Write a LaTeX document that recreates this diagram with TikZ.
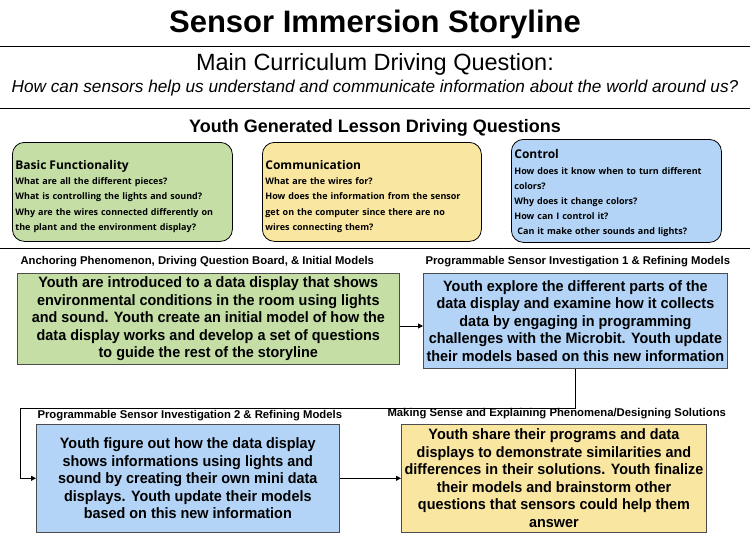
\documentclass[tikz,border=0pt]{standalone}
\usepackage{fontspec}
\setmainfont{Liberation Sans}
\newfontfamily\narrowfont[FakeStretch=0.96]{Liberation Sans}
\newfontfamily\qfont{Open Sans}
\usetikzlibrary{arrows.meta, positioning}

\definecolor{boxgreen}{HTML}{C4DEA6}
\definecolor{boxyellow}{HTML}{F9E6A1}
\definecolor{boxblue}{HTML}{B3D4F6}

\tikzset{
    qbox/.style={draw=black, rounded corners=12pt, line width=0.8pt, anchor=north west,
        align=left, inner xsep=3pt, inner ysep=8pt, font=\qfont\bfseries\fontsize{9}{15.2}\selectfont},
    stagebox/.style={draw=black!70, line width=0.6pt, anchor=north west, align=center,
        font=\narrowfont\bfseries\fontsize{15}{17.5}\selectfont},
    stagelabel/.style={anchor=west, font=\bfseries\fontsize{11.3}{13}\selectfont},
    flow/.style={line width=1pt, -{Triangle[length=5pt,width=5pt]}}
}

\begin{document}
\begin{tikzpicture}[x=1pt, y=-1pt]
    \useasboundingbox (0,0) rectangle (750,543);

    % Header
    \node[font=\bfseries\fontsize{31}{33}\selectfont] (title) at (375,24) {Sensor Immersion Storyline};
    \draw[line width=1pt] (0,47) -- (750,47);
    \node[font=\fontsize{23.5}{25}\selectfont] (mainq) at (375,64) {Main Curriculum Driving Question:};
    \node[font=\itshape\fontsize{17.2}{19}\selectfont] (mainqtext) at (375,88)
        {How can sensors help us understand and communicate information about the world around us?};
    \draw[line width=1pt] (0,108) -- (750,108);
    \node[font=\bfseries\fontsize{18}{20}\selectfont] (youthq) at (375,128) {Youth Generated Lesson Driving Questions};

    % Lesson driving questions
    \node[qbox, fill=boxgreen, text width=214pt, minimum height=99pt] (basic) at (12,142)
        {\rule{0pt}{18pt}{\fontsize{12}{14}\selectfont Basic Functionality}\\
         What are all the different pieces?\\
         What is controlling the lights and sound?\\
         Why are the wires connected differently on\\
         the plant and the environment display?};
    \node[qbox, fill=boxyellow, text width=213pt, minimum height=99pt] (comm) at (262,142)
        {\rule{0pt}{18pt}{\fontsize{12}{14}\selectfont Communication}\\
         What are the wires for?\\
         How does the information from the sensor\\
         get on the computer since there are no\\
         wires connecting them?};
    \node[qbox, fill=boxblue, text width=204pt, minimum height=103pt, inner ysep=5pt] (control) at (511,139)
        {\rule{0pt}{14pt}{\fontsize{12}{14}\selectfont Control}\\
         How does it know when to turn different\\
         colors?\\
         Why does it change colors?\\
         How can I control it?\\
         \ Can it make other sounds and lights?};
    \draw[line width=1pt] (0,248) -- (750,248);

    % Storyline stages
    \node[stagelabel] (lab1) at (17,262) {Anchoring Phenomenon, Driving Question Board, \& Initial Models};
    \node[stagelabel] (lab2) at (422,262) {Programmable Sensor Investigation 1 \& Refining Models};
    \node[stagebox, fill=boxgreen, minimum width=382pt, minimum height=79pt] (anchor) at (17,273)
        {Youth are introduced to a data display that shows\\
         environmental conditions in the room using lights\\
         and sound. Youth create an initial model of how the\\
         data display works and develop a set of questions\\
         to guide the rest of the storyline};
    \node[stagebox, fill=boxblue, minimum width=300pt, minimum height=95pt] (invest1) at (423,273)
        {Youth explore the different parts of the\\
         data display and examine how it collects\\
         data by engaging in programming\\
         challenges with the Microbit. Youth update\\
         their models based on this new information};

    \node[stagelabel] (lab3) at (34,416) {Programmable Sensor Investigation 2 \& Refining Models};
    \node[stagelabel] (lab4) at (384,414) {Making Sense and Explaining Phenomena/Designing Solutions};
    \node[stagebox, fill=boxblue, minimum width=303pt, minimum height=108pt] (invest2) at (36,424)
        {Youth figure out how the data display\\
         shows informations using lights and\\
         sound by creating their own mini data\\
         displays. Youth update their models\\
         based on this new information};
    \node[stagebox, fill=boxyellow, minimum width=305pt, minimum height=108pt] (sense) at (401,424)
        {Youth share their programs and data\\
         displays to demonstrate similarities and\\
         differences in their solutions. Youth finalize\\
         their models and brainstorm other\\
         questions that sensors could help them\\
         answer};

    % Connectors
    \coordinate (turnA) at (575,408);
    \coordinate (turnB) at (20,408);
    \draw[flow] (anchor.east |- 0,326) -- (invest1.west |- 0,326);
    \draw[flow] (invest1.south -| turnA) -- (turnA) -- (turnB) |- (invest2.west);
    \draw[flow] (invest2.east) -- (sense.west);
\end{tikzpicture}
\end{document}
